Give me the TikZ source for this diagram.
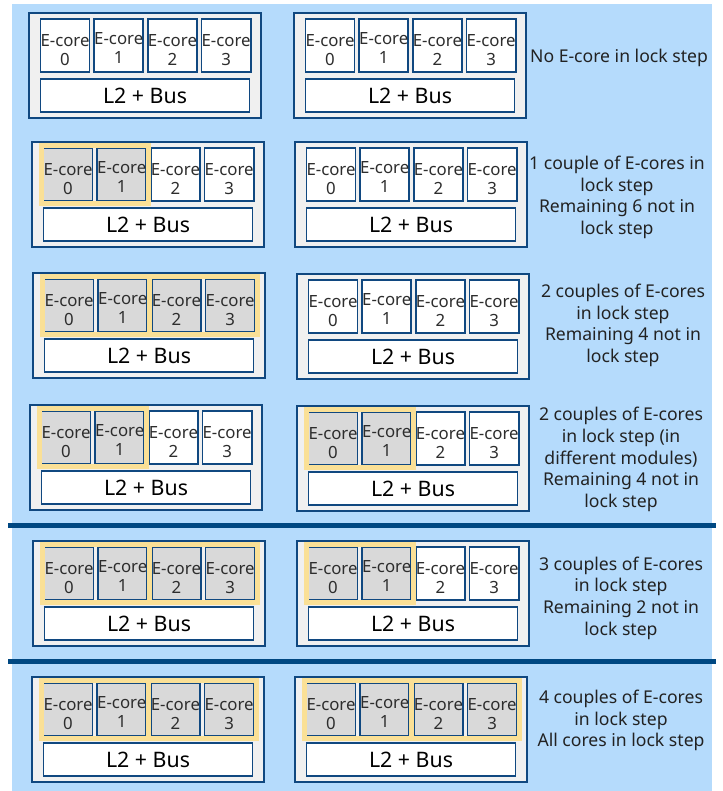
\documentclass[tikz,border=0pt]{standalone}
\usepackage{fontspec}
\setmainfont{Noto Sans}
\usetikzlibrary{fit}
\definecolor{bgblue}{RGB}{181,219,252}
\definecolor{dkblue}{RGB}{16,72,128}
\definecolor{modgrey}{RGB}{240,240,240}
\definecolor{lockgrey}{RGB}{217,217,217}
\definecolor{lockyel}{RGB}{250,224,150}
\definecolor{divblue}{RGB}{0,72,130}
\definecolor{txt}{RGB}{34,34,34}
\definecolor{celltxt}{RGB}{45,45,45}
\tikzset{
 modbox/.style={draw=dkblue, fill=modgrey, line width=1.3pt, minimum width=174pt, minimum height=78.75pt, inner sep=0pt, outer sep=0pt},
 core/.style={draw=dkblue, fill=white, line width=1.3pt, minimum width=36pt, minimum height=39.75pt, inner sep=0pt, outer sep=0pt, align=center, font=\fontsize{12.6}{14.3}\selectfont, text=celltxt, text height=30.3pt, text depth=0pt},
 lockcore/.style={core, fill=lockgrey},
 raised/.style={text height=26.8pt},
 busbox/.style={draw=dkblue, fill=white, line width=1.3pt, minimum width=156.75pt, minimum height=24.75pt, inner sep=0pt, outer sep=0pt, font=\fontsize{16}{18}\selectfont, text=black},
 lockframe/.style={draw=lockyel, line width=3.75pt, inner sep=1.875pt},
 desc/.style={align=center, font=\fontsize{13.2}{16.3}\selectfont, text=txt},
 divider/.style={draw=divblue, line width=3.75pt},
}
\newcommand\emod[5]{%
 \begin{scope}[shift={(#2,#3)}]
 \node[modbox, anchor=north west] (#1) at (0,0) {};
 \node[#4, anchor=north west] (#1c0) at (11.5,6) {E-core\\0};
 \node[#4, raised, anchor=north west] (#1c1) at (65.2,6) {E-core\\1};
 \node[#5, anchor=north west] (#1c2) at (118.9,6) {E-core\\2};
 \node[#5, anchor=north west] (#1c3) at (172.6,6) {E-core\\3};
 \node[busbox, anchor=north west] (#1bus) at (11.5,66) {L2 + Bus};
 \end{scope}}
\begin{document}
\begin{tikzpicture}[x=0.75pt,y=-0.75pt]
\useasboundingbox (0,0) rectangle (722,791);
\fill[bgblue] (12,4) rectangle (712,791);
% row 1
\emod{aL}{29}{13}{core}{core}
\emod{aR}{294}{13}{core}{core}
\node[desc] (ta) at (619,58) {No E-core in lock step};
% row 2
\emod{bL}{32}{142}{lockcore}{core}
\node[lockframe, fit=(bLc0)(bLc1)] (bLfA) {};
\emod{bR}{295}{142}{core}{core}
\node[desc] (tb) at (617,197.5) {1 couple of E-cores in\\lock step\\Remaining 6 not in\\lock step};
% row 3
\emod{cL}{33}{273}{lockcore}{lockcore}
\node[lockframe, fit=(cLc0)(cLc1)] (cLfA) {};
\node[lockframe, fit=(cLc2)(cLc3)] (cLfB) {};
\emod{cR}{297}{274}{core}{core}
\node[desc] (tc) at (623,325.5) {2 couples of E-cores\\in lock step\\Remaining 4 not in\\lock step};
% row 4
\emod{dL}{30}{405}{lockcore}{core}
\node[lockframe, fit=(dLc0)(dLc1)] (dLfA) {};
\emod{dR}{297}{406}{lockcore}{core}
\node[lockframe, fit=(dRc0)(dRc1)] (dRfA) {};
\node[desc] (td) at (621,459.5) {2 couples of E-cores\\in lock step (in\\different modules)\\Remaining 4 not in\\lock step};
% divider 1
\coordinate (d1a) at (8,525.5);
\coordinate (d1b) at (716,525.5);
\draw[divider] (d1a) -- (d1b);
% row 5
\emod{eL}{33}{541}{lockcore}{lockcore}
\node[lockframe, fit=(eLc0)(eLc1)] (eLfA) {};
\node[lockframe, fit=(eLc2)(eLc3)] (eLfB) {};
\emod{eR}{297}{541}{lockcore}{core}
\node[lockframe, fit=(eRc0)(eRc1)] (eRfA) {};
\node[desc] (te) at (621,598) {3 couples of E-cores\\in lock step\\Remaining 2 not in\\lock step};
% divider 2
\coordinate (d2a) at (8,661.5);
\coordinate (d2b) at (716,661.5);
\draw[divider] (d2a) -- (d2b);
% row 6
\emod{fL}{32}{677}{lockcore}{lockcore}
\node[lockframe, fit=(fLc0)(fLc1)] (fLfA) {};
\node[lockframe, fit=(fLc2)(fLc3)] (fLfB) {};
\emod{fR}{295}{677}{lockcore}{lockcore}
\node[lockframe, fit=(fRc0)(fRc1)] (fRfA) {};
\node[lockframe, fit=(fRc2)(fRc3)] (fRfB) {};
\node[desc] (tf) at (621,720.5) {4 couples of E-cores\\in lock step\\All cores in lock step};
\end{tikzpicture}
\end{document}
